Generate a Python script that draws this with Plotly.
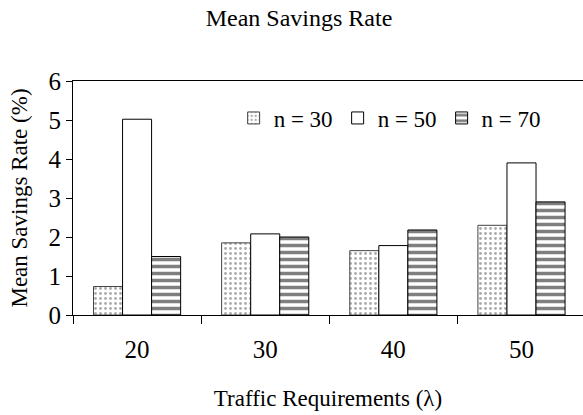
import plotly.graph_objects as go

categories = ["20", "30", "40", "50"]
series_names = ["n = 30", "n = 50", "n = 70"]
n30 = [0.73, 1.85, 1.65, 2.30]
n50 = [5.02, 2.08, 1.78, 3.90]
n70 = [1.50, 2.00, 2.18, 2.90]
y_ticks = [0, 1, 2, 3, 4, 5, 6]

FONT = "Liberation Serif"
F23 = dict(family=FONT, size=23, color="black")
F24 = dict(family=FONT, size=24, color="black")
F25 = dict(family=FONT, size=25, color="black")

W, H = 583, 415

fig = go.Figure()
fig.add_trace(go.Bar(
    name=series_names[0], x=categories, y=n30,
    marker=dict(color="white", line=dict(color="#444444", width=1),
                pattern=dict(shape=".", fgcolor="#555555", bgcolor="white",
                             size=5, solidity=0.25)),
))
fig.add_trace(go.Bar(
    name=series_names[1], x=categories, y=n50,
    marker=dict(color="white", line=dict(color="black", width=1)),
))
fig.add_trace(go.Bar(
    name=series_names[2], x=categories, y=n70,
    marker=dict(color="white", line=dict(color="black", width=1),
                pattern=dict(shape="-", fgcolor="black", bgcolor="white",
                             size=7, solidity=0.5)),
))

fig.update_layout(
    width=W, height=H,
    margin=dict(l=73, r=0, t=81, b=100, autoexpand=False),
    paper_bgcolor="white", plot_bgcolor="white",
    font=F23,
    title=dict(text="Mean Savings Rate", x=299 / W, xanchor="center",
               y=1 - 18 / H, yanchor="middle", font=F24),
    barmode="group", bargap=0.32, bargroupgap=0,
    showlegend=True,
    legend=dict(orientation="h", x=0.315, xanchor="left", y=(315 - 118) / 234,
                yanchor="middle",
                bgcolor="rgba(0,0,0,0)", font=F23, itemwidth=30,
                traceorder="normal"),
    xaxis=dict(type="category", range=[-0.5, 3.48], showline=True, linecolor="black",
               linewidth=1, mirror=True, ticks="outside", tickson="boundaries",
               ticklen=8, tickcolor="black", showgrid=False, zeroline=False,
               automargin=True, ticklabelstandoff=12,
               title=dict(text="Traffic Requirements (λ)", standoff=27, font=F23),
               tickfont=F25),
    xaxis2=dict(overlaying="x", anchor="y", range=[-0.5, 3.48], tickvals=[0.5, 1.5, 2.5],
                ticks="inside", ticklen=8, tickcolor="black", showticklabels=False,
                showline=False, showgrid=False, zeroline=False),
    yaxis=dict(range=[0, 6], tickvals=y_ticks, showline=True, linecolor="black",
               linewidth=1, ticks="outside", ticklen=6, tickcolor="black",
               showgrid=False, zeroline=False, automargin=True,
               title=dict(text="Mean Savings Rate (%)", standoff=14, font=F23),
               tickfont=F25),
    yaxis2=dict(overlaying="y", anchor="x", side="left", range=[0, 6], tickvals=y_ticks,
                ticks="inside", ticklen=8, tickcolor="black", showticklabels=False,
                showline=False, showgrid=False, zeroline=False),
)

fig.write_html("out.html", config={"displayModeBar": False},
               post_script="document.body.style.margin='0';")
